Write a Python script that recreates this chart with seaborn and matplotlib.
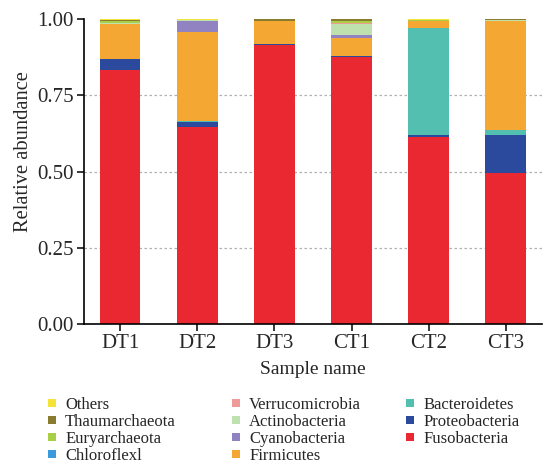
import numpy as np
import matplotlib
matplotlib.use("Agg")
import matplotlib.pyplot as plt
from matplotlib.lines import Line2D
import seaborn as sns

samples = ["DT1", "DT2", "DT3", "CT1", "CT2", "CT3"]

# Relative abundance per phylum, listed from the bottom of each stack upwards
Fusobacteria    = [0.833, 0.647, 0.915, 0.876, 0.614, 0.495]
Proteobacteria  = [0.036, 0.016, 0.002, 0.002, 0.006, 0.125]
Bacteroidetes   = [0.001, 0.004, 0.001, 0.001, 0.351, 0.016]
Firmicutes      = [0.113, 0.289, 0.074, 0.058, 0.022, 0.359]
Cyanobacteria   = [0.001, 0.039, 0.001, 0.012, 0.001, 0.000]
Actinobacteria  = [0.003, 0.001, 0.001, 0.033, 0.001, 0.001]
Verrucomicrobia = [0.000, 0.000, 0.000, 0.005, 0.000, 0.000]
Chloroflexl     = [0.000, 0.000, 0.000, 0.001, 0.000, 0.000]
Euryarchaeota   = [0.006, 0.001, 0.001, 0.004, 0.001, 0.000]
Thaumarchaeota  = [0.005, 0.001, 0.004, 0.007, 0.001, 0.004]
Others          = [0.002, 0.002, 0.001, 0.001, 0.003, 0.000]

phyla = ["Fusobacteria", "Proteobacteria", "Bacteroidetes", "Firmicutes",
         "Cyanobacteria", "Actinobacteria", "Verrucomicrobia", "Chloroflexl",
         "Euryarchaeota", "Thaumarchaeota", "Others"]
values = [Fusobacteria, Proteobacteria, Bacteroidetes, Firmicutes,
          Cyanobacteria, Actinobacteria, Verrucomicrobia, Chloroflexl,
          Euryarchaeota, Thaumarchaeota, Others]
colors = ["#EA2832", "#2B4A9E", "#52BFB1", "#F5A733",
          "#9183C2", "#BFE1AF", "#EE9A98", "#3A9ADB",
          "#A8CF45", "#8A7C2E", "#F4E43A"]

sns.set_theme(style="white")
plt.rcParams["font.family"] = ["Liberation Serif", "DejaVu Serif"]

fig = plt.figure(figsize=(5.51, 4.63), dpi=100)
ax = fig.add_axes([0.152, 0.300, 0.832, 0.659])

# Stacked bars: draw cumulative totals from the top layer down
cum = np.cumsum(np.array(values), axis=0)
for i in range(len(phyla) - 1, -1, -1):
    sns.barplot(x=samples, y=cum[i], color=colors[i], width=0.53,
                saturation=1, linewidth=0, errorbar=None, ax=ax, zorder=2)

for yv in (0.25, 0.50, 0.75):
    ax.axhline(yv, color="#B0B0B0", lw=0.9, ls=(0, (2, 2)), zorder=0)

ax.set_ylim(0, 1.0)
ax.set_xlim(-0.47, 5.47)
ax.set_yticks([0, 0.25, 0.5, 0.75, 1.0])
ax.set_yticklabels(["0.00", "0.25", "0.50", "0.75", "1.00"])
for side in ("top", "right"):
    ax.spines[side].set_visible(False)
for side in ("left", "bottom"):
    ax.spines[side].set_color("black")
    ax.spines[side].set_linewidth(1.2)
ax.tick_params(axis="both", which="major", direction="out", length=5,
               width=1.1, color="black", labelsize=15, pad=2, left=True,
               bottom=True)
ax.set_xlabel("Sample name", fontsize=14, labelpad=6)
ax.set_ylabel("Relative abundance", fontsize=14.8)
ax.yaxis.set_label_coords(-0.11, 0.565)

# Legend in three columns below the plot
legend_order = list(range(len(phyla) - 1, -1, -1))
columns = [legend_order[0:4], legend_order[4:8], legend_order[8:11]]
col_x = [0.082, 0.416, 0.732]
for cx, idxs in zip(col_x, columns):
    handles = [Line2D([], [], marker="s", ls="none", markersize=5.5,
                      markerfacecolor=colors[k], markeredgewidth=0)
                for k in idxs]
    labels = [phyla[k] for k in idxs]
    fig.legend(handles, labels, loc="upper left", bbox_to_anchor=(cx, 0.142),
               frameon=False, fontsize=12, handlelength=0.8,
               handletextpad=0.4, labelspacing=0.05, borderpad=0,
               borderaxespad=0)

fig.savefig("out.png", dpi=100)
